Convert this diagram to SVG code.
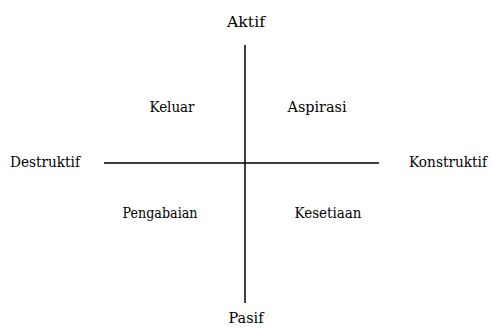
<svg xmlns="http://www.w3.org/2000/svg" width="493" height="329" viewBox="0 0 493 329">
<style>
.lbl { font-family: 'DejaVu Serif', serif; font-size: 15px; fill: #000; text-anchor: middle; }
.axis { stroke: #000; stroke-width: 1.5; fill: none; }
</style>
<rect width="493" height="329" fill="#fff"/>
<g id="connectors">
<line class="axis" x1="245" y1="45" x2="245" y2="303"/>
<line class="axis" x1="104" y1="163" x2="379" y2="163"/>
</g>
<g id="aktif"><text class="lbl" x="246" y="27" textLength="38" lengthAdjust="spacingAndGlyphs">Aktif</text></g>
<g id="pasif"><text class="lbl" x="246" y="323" textLength="35" lengthAdjust="spacingAndGlyphs">Pasif</text></g>
<g id="destruktif"><text class="lbl" x="45" y="167" textLength="70" lengthAdjust="spacingAndGlyphs">Destruktif</text></g>
<g id="konstruktif"><text class="lbl" x="448" y="167" textLength="78" lengthAdjust="spacingAndGlyphs">Konstruktif</text></g>
<g id="keluar"><text class="lbl" x="172" y="112" textLength="45" lengthAdjust="spacingAndGlyphs">Keluar</text></g>
<g id="aspirasi"><text class="lbl" x="317" y="112" textLength="59" lengthAdjust="spacingAndGlyphs">Aspirasi</text></g>
<g id="pengabaian"><text class="lbl" x="160" y="218" textLength="75" lengthAdjust="spacingAndGlyphs">Pengabaian</text></g>
<g id="kesetiaan"><text class="lbl" x="328" y="218" textLength="67" lengthAdjust="spacingAndGlyphs">Kesetiaan</text></g>
</svg>
